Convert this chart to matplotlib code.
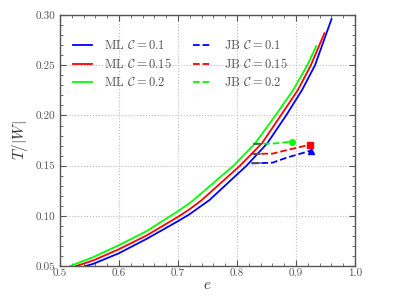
import matplotlib
matplotlib.use("Agg")
import matplotlib.pyplot as plt
from matplotlib.ticker import MultipleLocator, FormatStrFormatter

plt.rcParams['font.family'] = 'serif'
plt.rcParams['font.serif'] = ['cmr10', 'DejaVu Serif']
plt.rcParams['mathtext.fontset'] = 'cm'
plt.rcParams['axes.unicode_minus'] = False
plt.rcParams['axes.formatter.use_mathtext'] = True

# ML curves
e_ml_01 = [0.543, 0.5565, 0.599, 0.647, 0.700, 0.719, 0.753, 0.816, 0.851, 0.883, 0.910, 0.932, 0.960]
t_ml_01 = [0.050, 0.0523, 0.0626, 0.0772, 0.0948, 0.1015, 0.1157, 0.150, 0.1722, 0.200, 0.2253, 0.250, 0.296]
e_ml_015 = [0.527, 0.5565, 0.599, 0.647, 0.700, 0.719, 0.740, 0.805, 0.842, 0.874, 0.903, 0.925, 0.948]
t_ml_015 = [0.050, 0.0557, 0.0666, 0.0806, 0.0991, 0.1064, 0.1157, 0.150, 0.1722, 0.200, 0.2253, 0.250, 0.282]
e_ml_02 = [0.517, 0.5565, 0.599, 0.647, 0.700, 0.719, 0.726, 0.794, 0.8305, 0.865, 0.895, 0.919, 0.934]
t_ml_02 = [0.050, 0.059, 0.0706, 0.0849, 0.1048, 0.1124, 0.1157, 0.150, 0.1722, 0.200, 0.2253, 0.250, 0.269]

# JB curves
e_jb_01 = [0.825, 0.860, 0.884, 0.925]
t_jb_01 = [0.1523, 0.153, 0.158, 0.165]
e_jb_015 = [0.825, 0.860, 0.884, 0.924]
t_jb_015 = [0.1618, 0.162, 0.1655, 0.171]
e_jb_02 = [0.828, 0.860, 0.893]
t_jb_02 = [0.172, 0.172, 0.174]

fig = plt.figure(figsize=(3.95, 2.96), dpi=100)
ax = fig.add_axes([0.152, 0.101, 0.747, 0.848])

ax.plot(e_ml_01, t_ml_01, color='blue', lw=1.3, label=r'ML $\mathcal{C} = 0.1$')
ax.plot(e_ml_015, t_ml_015, color='red', lw=1.3, label=r'ML $\mathcal{C} = 0.15$')
ax.plot(e_ml_02, t_ml_02, color='lime', lw=1.3, label=r'ML $\mathcal{C} = 0.2$')

ax.plot(e_jb_01, t_jb_01, color='blue', lw=1.3, ls='--', label=r'JB $\mathcal{C} = 0.1$')
ax.plot(e_jb_015, t_jb_015, color='red', lw=1.3, ls='--', label=r'JB $\mathcal{C} = 0.15$')
ax.plot(e_jb_02, t_jb_02, color='lime', lw=1.3, ls='--', label=r'JB $\mathcal{C} = 0.2$')

# short grey stubs where the JB lines begin
for ex, tx in [(e_jb_01, t_jb_01), (e_jb_015, t_jb_015), (e_jb_02, t_jb_02)]:
    ax.plot([ex[0], ex[0] + 0.013], [tx[0], tx[0]], color='#555555', lw=1.2)

ax.plot(e_jb_01[-1], t_jb_01[-1], '^', color='blue', ms=4)
ax.plot(e_jb_015[-1], t_jb_015[-1], 's', color='red', ms=4)
ax.plot(e_jb_02[-1], t_jb_02[-1], 'o', color='lime', ms=4)

ax.set_xlim(0.5, 1.0)
ax.set_ylim(0.05, 0.30)
ax.xaxis.set_major_locator(MultipleLocator(0.1))
ax.xaxis.set_minor_locator(MultipleLocator(0.02))
ax.yaxis.set_major_locator(MultipleLocator(0.05))
ax.yaxis.set_minor_locator(MultipleLocator(0.01))
ax.xaxis.set_major_formatter(FormatStrFormatter('%.1f'))
ax.yaxis.set_major_formatter(FormatStrFormatter('%.2f'))

ax.grid(True, which='major', ls=':', color='#bbbbbb', lw=0.8)
for s in ax.spines.values():
    s.set_color('#555555')
    s.set_linewidth(1.0)
ax.tick_params(which='both', direction='in', top=True, right=True,
               colors='#555555', labelsize=8, labelcolor='#555555')
ax.tick_params(which='major', length=4)
ax.tick_params(which='minor', length=2)
ax.tick_params(axis='x', pad=2)

ax.set_xlabel(r'$e$', fontsize=11, color='#333333', labelpad=0)
ax.set_ylabel(r'$T/|W|$', fontsize=11, color='#333333')

leg = ax.legend(ncol=2, loc='upper left', frameon=False, fontsize=9,
                handlelength=1.5, handletextpad=1.0, columnspacing=1.7,
                labelspacing=0.4, borderpad=0, borderaxespad=0,
                bbox_to_anchor=(0.044, 0.905))
for t in leg.get_texts():
    t.set_color('#555555')

fig.savefig('out.png', dpi=100)
